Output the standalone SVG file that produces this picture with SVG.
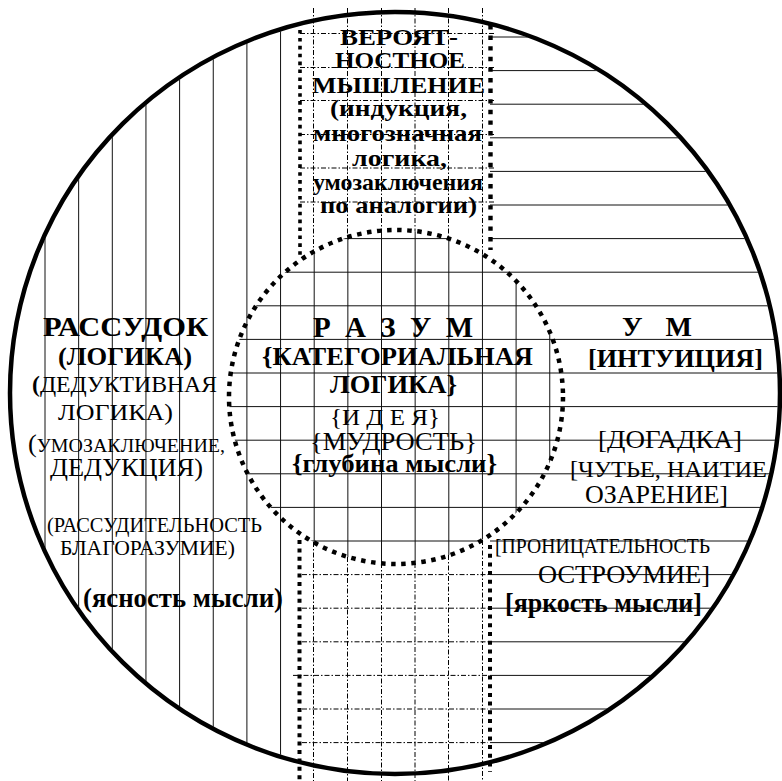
<svg xmlns="http://www.w3.org/2000/svg" width="782" height="781" viewBox="0 0 782 781">
<style>
.g{stroke:#111;stroke-width:1;fill:none}
.dd{stroke:#000;stroke-width:1;fill:none;stroke-dasharray:5 2 1.5 2}
.dot{stroke:#000;fill:none}
text{fill:#000;font-family:"Liberation Serif","Times New Roman",serif}
.b{font-weight:bold}
</style>
<defs>
<clipPath id="outer"><ellipse cx="395" cy="393" rx="383" ry="379"/></clipPath>
<clipPath id="vzone"><rect x="0" y="0" width="298" height="781"/><circle cx="396" cy="397" r="167"/></clipPath>
<clipPath id="hzone"><rect x="490" y="0" width="292" height="781"/><circle cx="396" cy="397" r="167"/></clipPath>
</defs>
<rect width="782" height="781" fill="#fff"/>
<g id="connectors">
<g id="grid" clip-path="url(#outer)">
<g clip-path="url(#vzone)" class="g">
<line x1="45" y1="0" x2="45" y2="781"/>
<line x1="78.65" y1="0" x2="78.65" y2="781"/>
<line x1="112.3" y1="0" x2="112.3" y2="781"/>
<line x1="145.95" y1="0" x2="145.95" y2="781"/>
<line x1="179.6" y1="0" x2="179.6" y2="781"/>
<line x1="213.25" y1="0" x2="213.25" y2="781"/>
<line x1="246.9" y1="0" x2="246.9" y2="781"/>
<line x1="280.55" y1="0" x2="280.55" y2="781"/>
<line x1="314.2" y1="0" x2="314.2" y2="781"/>
<line x1="347.85" y1="0" x2="347.85" y2="781"/>
<line x1="381.5" y1="0" x2="381.5" y2="781"/>
<line x1="415.15" y1="0" x2="415.15" y2="781"/>
<line x1="448.8" y1="0" x2="448.8" y2="781"/>
<line x1="482.45" y1="0" x2="482.45" y2="781"/>
<line x1="516.1" y1="0" x2="516.1" y2="781"/>
<line x1="549.75" y1="0" x2="549.75" y2="781"/>
</g>
<g clip-path="url(#hzone)" class="g">
<line x1="0" y1="37" x2="782" y2="37"/>
<line x1="0" y1="70.6" x2="782" y2="70.6"/>
<line x1="0" y1="104.2" x2="782" y2="104.2"/>
<line x1="0" y1="137.8" x2="782" y2="137.8"/>
<line x1="0" y1="171.4" x2="782" y2="171.4"/>
<line x1="0" y1="205" x2="782" y2="205"/>
<line x1="0" y1="238.6" x2="782" y2="238.6"/>
<line x1="0" y1="272.2" x2="782" y2="272.2"/>
<line x1="0" y1="305.8" x2="782" y2="305.8"/>
<line x1="0" y1="339.4" x2="782" y2="339.4"/>
<line x1="0" y1="373" x2="782" y2="373"/>
<line x1="0" y1="406.6" x2="782" y2="406.6"/>
<line x1="0" y1="440.2" x2="782" y2="440.2"/>
<line x1="0" y1="473.8" x2="782" y2="473.8"/>
<line x1="0" y1="507.4" x2="782" y2="507.4"/>
<line x1="0" y1="541" x2="782" y2="541"/>
<line x1="0" y1="574.6" x2="782" y2="574.6"/>
<line x1="0" y1="608.2" x2="782" y2="608.2"/>
<line x1="0" y1="641.8" x2="782" y2="641.8"/>
<line x1="0" y1="675.4" x2="782" y2="675.4"/>
<line x1="0" y1="709" x2="782" y2="709"/>
<line x1="0" y1="742.6" x2="782" y2="742.6"/>
</g>
</g>
<g id="strip-grid" class="dd">
<line x1="313.5" y1="8" x2="313.5" y2="251"/>
<line x1="347.5" y1="8" x2="347.5" y2="237"/>
<line x1="381.5" y1="8" x2="381.5" y2="231"/>
<line x1="415" y1="8" x2="415" y2="231"/>
<line x1="448.5" y1="8" x2="448.5" y2="239"/>
<line x1="482.5" y1="8" x2="482.5" y2="254"/>
<line x1="300" y1="33.5" x2="496" y2="33.5"/>
<line x1="300" y1="67.5" x2="496" y2="67.5"/>
<line x1="300" y1="100.5" x2="496" y2="100.5"/>
<line x1="300" y1="134.5" x2="496" y2="134.5"/>
<line x1="300" y1="168" x2="496" y2="168"/>
<line x1="300" y1="202" x2="496" y2="202"/>
<line x1="313.5" y1="542" x2="313.5" y2="781"/>
<line x1="347.5" y1="557" x2="347.5" y2="781"/>
<line x1="381.5" y1="563" x2="381.5" y2="781"/>
<line x1="415" y1="563" x2="415" y2="781"/>
<line x1="448.5" y1="555" x2="448.5" y2="781"/>
<line x1="482.5" y1="540" x2="482.5" y2="781"/>
<line x1="302" y1="574.6" x2="488" y2="574.6"/>
<line x1="302" y1="608.2" x2="488" y2="608.2"/>
<line x1="302" y1="641.8" x2="488" y2="641.8"/>
<line x1="293" y1="675.4" x2="488" y2="675.4"/>
<line x1="302" y1="709" x2="488" y2="709"/>
<line x1="302" y1="742.6" x2="488" y2="742.6"/>
</g>
<ellipse id="outer-circle" cx="395" cy="393" rx="385" ry="381" fill="none" stroke="#000" stroke-width="4.5"/>
<g id="strip-borders" class="dot">
<line x1="300" y1="30" x2="300" y2="258" stroke-width="3.6" stroke-dasharray="3.6 4.3"/>
<line x1="490.5" y1="25" x2="490.5" y2="250" stroke-width="4.4" stroke-dasharray="4.4 6.2"/>
<line x1="299.5" y1="540" x2="299.5" y2="781" stroke-width="4" stroke-dasharray="4 4.4"/>
<line x1="490" y1="545" x2="490" y2="772" stroke-width="4" stroke-dasharray="4 4.7"/>
</g>
<circle id="dotted-circle" cx="396" cy="397" r="167" class="dot" stroke-width="4.5" stroke-dasharray="4.5 5.6"/>
</g>
<g id="veroyatnostnoe">
<text class="b" font-size="24" x="340" y="45" textLength="118" lengthAdjust="spacingAndGlyphs">ВЕРОЯТ-</text>
<text class="b" font-size="24" x="335" y="68" textLength="130" lengthAdjust="spacingAndGlyphs">НОСТНОЕ</text>
<text class="b" font-size="24" x="312" y="93" textLength="173" lengthAdjust="spacingAndGlyphs">МЫШЛЕНИЕ</text>
<text class="b" font-size="24" x="330" y="116" textLength="137" lengthAdjust="spacingAndGlyphs">(индукция,</text>
<text class="b" font-size="24" x="313" y="141" textLength="169" lengthAdjust="spacingAndGlyphs">многозначная</text>
<text class="b" font-size="24" x="352" y="166" textLength="95" lengthAdjust="spacingAndGlyphs">логика,</text>
<text class="b" font-size="24" x="313" y="190" textLength="170" lengthAdjust="spacingAndGlyphs">умозаключения</text>
<text class="b" font-size="24" x="320" y="213" textLength="157" lengthAdjust="spacingAndGlyphs">по аналогии)</text>
</g>
<g id="rassudok">
<text class="b" font-size="28" x="43" y="336" textLength="165" lengthAdjust="spacingAndGlyphs">РАССУДОК</text>
<text class="b" font-size="26" x="58" y="365" textLength="134" lengthAdjust="spacingAndGlyphs">(ЛОГИКА)</text>
<text font-size="24" x="32" y="392" textLength="185" lengthAdjust="spacingAndGlyphs"><tspan class="b">(</tspan>ДЕДУКТИВНАЯ</text>
<text font-size="24" x="58" y="420" textLength="115" lengthAdjust="spacingAndGlyphs">ЛОГИКА)</text>
<text font-size="19" x="28" y="452" textLength="197" lengthAdjust="spacingAndGlyphs"><tspan font-size="25">(</tspan>УМОЗАКЛЮЧЕНИЕ,</text>
<text font-size="26" x="50" y="476" textLength="153" lengthAdjust="spacingAndGlyphs">ДЕДУКЦИЯ)</text>
<text font-size="20" x="47" y="532" textLength="215" lengthAdjust="spacingAndGlyphs">(РАССУДИТЕЛЬНОСТЬ</text>
<text font-size="20" x="60" y="555" textLength="175" lengthAdjust="spacingAndGlyphs">БЛАГОРАЗУМИЕ)</text>
<text class="b" font-size="27" x="83" y="607" textLength="200" lengthAdjust="spacingAndGlyphs">(ясность мысли)</text>
</g>
<g id="razum">
<text class="b" font-size="29" x="313" y="337" textLength="160" lengthAdjust="spacing">Р А З У М</text>
<text class="b" font-size="26" x="262" y="365" textLength="271" lengthAdjust="spacingAndGlyphs">{КАТЕГОРИАЛЬНАЯ</text>
<text class="b" font-size="26" x="330" y="393" textLength="127" lengthAdjust="spacingAndGlyphs">ЛОГИКА}</text>
<text font-size="24" x="330" y="425" textLength="110" lengthAdjust="spacingAndGlyphs">{И Д Е Я}</text>
<text font-size="26" x="310" y="450" textLength="167" lengthAdjust="spacingAndGlyphs">{МУДРОСТЬ}</text>
<text class="b" font-size="26" x="292" y="472" textLength="205" lengthAdjust="spacingAndGlyphs">{глубина мысли}</text>
</g>
<g id="um">
<text class="b" font-size="28" x="622" y="336" textLength="70" lengthAdjust="spacing" xml:space="preserve">У  М</text>
<text class="b" font-size="26" x="588" y="367" textLength="175" lengthAdjust="spacingAndGlyphs">[ИНТУИЦИЯ]</text>
<text font-size="26" x="598" y="448" textLength="144" lengthAdjust="spacingAndGlyphs">[ДОГАДКА]</text>
<text font-size="24" x="570" y="477" textLength="203" lengthAdjust="spacingAndGlyphs">[ЧУТЬЕ, НАИТИЕ,</text>
<text font-size="26" x="585" y="503" textLength="143" lengthAdjust="spacingAndGlyphs">ОЗАРЕНИЕ]</text>
<text font-size="20" x="495" y="553" textLength="215" lengthAdjust="spacingAndGlyphs">[ПРОНИЦАТЕЛЬНОСТЬ</text>
<text font-size="26" x="538" y="583" textLength="172" lengthAdjust="spacingAndGlyphs">ОСТРОУМИЕ]</text>
<text class="b" font-size="27" x="505" y="612" textLength="197" lengthAdjust="spacingAndGlyphs">[яркость мысли]</text>
</g>
</svg>
